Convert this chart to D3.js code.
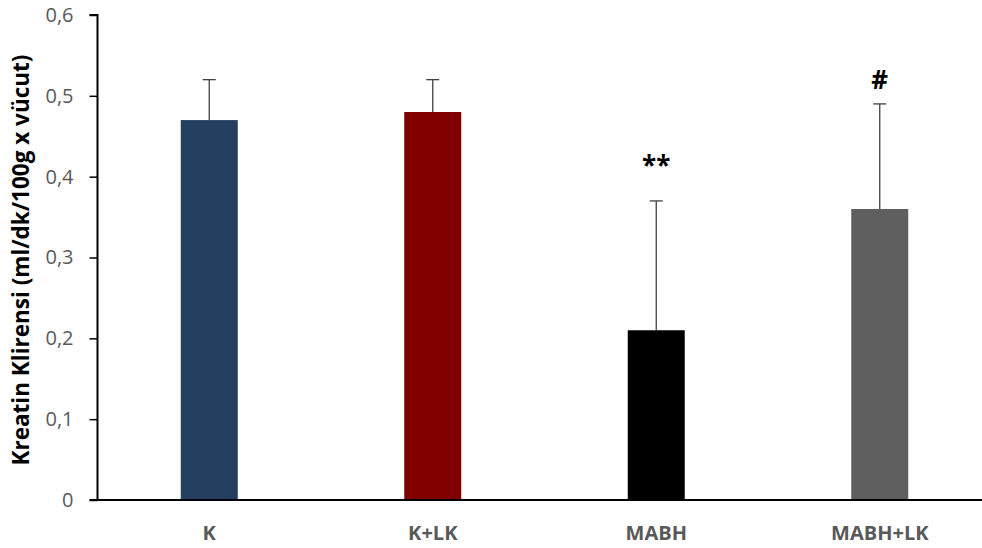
<!DOCTYPE html>
<html><head><meta charset="utf-8">
<script src="https://cdn.jsdelivr.net/npm/d3@7"></script>
<style>body{margin:0;background:#fff}svg{display:block}</style>
</head><body>
<script>
const categories = ["K", "K+LK", "MABH", "MABH+LK"];
const values = [0.47, 0.48, 0.21, 0.36];
const errors = [0.05, 0.04, 0.16, 0.13];
const colors = ["#243F60", "#800000", "#000000", "#5F5F5F"];
const annotations = ["", "", "**", "#"];
const yTicks = [0, 0.1, 0.2, 0.3, 0.4, 0.5, 0.6];
const yTitle = "Kreatin Klirensi (ml/dk/100g x vücut)";

(function () {
const W = 982, H = 548;
const svg = d3.select("body").append("svg").attr("width", W).attr("height", H);
const mLeft = 97.5, mRight = 991.5, mTop = 15, mBottom = 500;
const x = d3.scaleBand().domain(categories).range([mLeft, mRight]).paddingInner(0.745).paddingOuter(0.3725);
const y = d3.scaleLinear().domain([0, 0.6]).range([mBottom, mTop]);
const font = "'Open Sans', 'Liberation Sans', sans-serif";

svg.selectAll("rect.bar").data(categories).join("rect")
  .attr("x", d => x(d)).attr("width", x.bandwidth())
  .attr("y", (d, i) => y(values[i])).attr("height", (d, i) => y(0) - y(values[i]))
  .attr("fill", (d, i) => colors[i]);

const eg = svg.append("g").attr("stroke", "#404040").attr("stroke-width", 1.3);
categories.forEach((c, i) => {
  const cx = x(c) + x.bandwidth() / 2;
  eg.append("line").attr("x1", cx).attr("x2", cx).attr("y1", y(values[i])).attr("y2", y(values[i] + errors[i]));
  eg.append("line").attr("x1", cx - 6.5).attr("x2", cx + 6.5).attr("y1", y(values[i] + errors[i])).attr("y2", y(values[i] + errors[i]));
});

// asterisks sit high in the glyph box, so they need a larger baseline gap than '#'
const annGap = s => (s.indexOf("*") >= 0 ? 26 : 15);
svg.selectAll("text.ann").data(categories).join("text")
  .attr("x", d => x(d) + x.bandwidth() / 2)
  .attr("y", (d, i) => y(values[i] + errors[i]) - annGap(annotations[i]))
  .attr("text-anchor", "middle").attr("font-family", font).attr("font-weight", "bold")
  .attr("font-size", 26).attr("fill", "#000")
  .text((d, i) => annotations[i]);

const yAxis = d3.axisLeft(y).tickValues(yTicks).tickSize(8).tickPadding(16)
  .tickFormat(d => d3.format(".1f")(d).replace(".", ",").replace(/^0,0$/, "0"));
const ya = svg.append("g").attr("transform", `translate(${mLeft},0)`).call(yAxis);
ya.select(".domain").attr("stroke", "#000").attr("stroke-width", 2).attr("d", `M-8,${mTop}H0V${mBottom}`);
ya.selectAll(".tick line").attr("stroke", "#000").attr("stroke-width", 1.5);
ya.selectAll(".tick text").attr("font-family", font).attr("font-size", 20).attr("fill", "#595959");

const xAxis = d3.axisBottom(x).tickSize(0).tickPadding(26);
const xa = svg.append("g").attr("transform", `translate(0,${mBottom})`).call(xAxis);
xa.select(".domain").attr("stroke", "#000").attr("stroke-width", 2).attr("d", `M${mLeft - 8},0H${W}`);
xa.selectAll(".tick text").attr("font-family", font).attr("font-size", 20).attr("font-weight", "bold").attr("fill", "#595959");

svg.append("text").attr("transform", `translate(29,260) rotate(-90)`)
  .attr("text-anchor", "middle").attr("font-family", font).attr("font-weight", "bold")
  .attr("font-size", 22.5).attr("fill", "#000").text(yTitle);
})();
</script>
</body></html>
